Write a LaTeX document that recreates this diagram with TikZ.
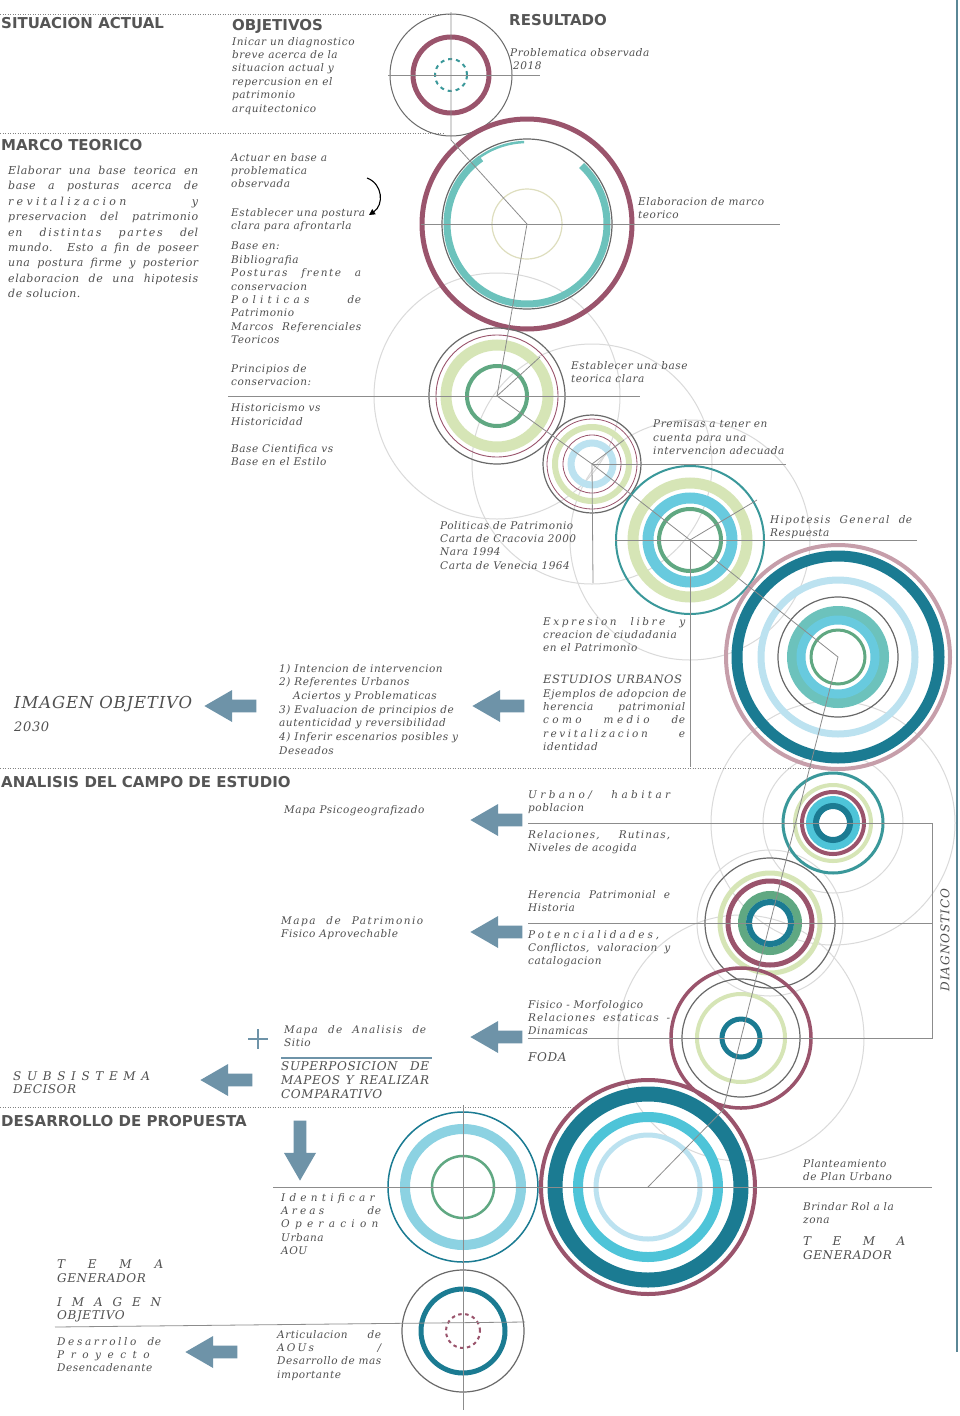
\documentclass[tikz,border=0pt]{standalone}
\usepackage{fontspec}
\setmainfont{DejaVu Serif}
\newfontfamily\handfont{DejaVu Serif}[LetterSpace=5]
\newfontfamily\headfont{DejaVu Sans}
\usetikzlibrary{shapes.arrows,arrows.meta}
\definecolor{maroonc}{RGB}{154,84,108}
\definecolor{pinkc}{RGB}{198,158,170}
\definecolor{dtealc}{RGB}{27,123,146}
\definecolor{tealc}{RGB}{108,194,188}
\definecolor{tealthin}{RGB}{58,152,154}
\definecolor{cyanc}{RGB}{104,202,222}
\definecolor{cyantwo}{RGB}{78,196,216}
\definecolor{lblue}{RGB}{188,226,240}
\definecolor{pgreen}{RGB}{214,229,182}
\definecolor{greenc}{RGB}{96,168,130}
\definecolor{dgray}{RGB}{105,105,105}
\definecolor{paleg}{RGB}{218,218,218}
\definecolor{linec}{RGB}{140,140,140}
\definecolor{dotc}{RGB}{130,130,130}
\definecolor{arrowc}{RGB}{110,147,168}
\definecolor{textc}{RGB}{80,80,80}
\definecolor{headc}{RGB}{85,85,85}
\definecolor{beigec}{RGB}{222,222,190}
\definecolor{edgec}{RGB}{90,135,150}
\definecolor{elevblue}{RGB}{140,210,226}
\newcommand\jl[2]{\hbox to #1{#2}}
\newcommand\lsp[2]{{\addfontfeature{LetterSpace=#1}#2}}
\begin{document}
\begin{tikzpicture}[x=1pt,y=-1pt,
 hand/.style={font={\handfont\itshape\fontsize{10.5}{13.4}\selectfont}, text=textc, inner sep=0pt, anchor=north west, align=left},
 head/.style={font={\headfont\bfseries\fontsize{15}{17}\selectfont}, text=headc, inner sep=0pt, anchor=west},
 guide/.style={draw=linec, line width=0.8pt},
 pale/.style={draw=paleg, line width=1pt},
 dotline/.style={draw=dotc, line width=1pt, dash pattern=on 1pt off 1.5pt},
 bigarrow/.style={single arrow, fill=arrowc, draw=none, minimum height=52pt, minimum width=32pt, single arrow tip angle=60, inner sep=4.5pt, anchor=tip}
]
\fill[white] (0,0) rectangle (960,1416);
\useasboundingbox (0,0) rectangle (960,1416);
% centres
\coordinate (C1) at (451,75);
\coordinate (C2) at (527,224);
\coordinate (C3) at (497,396);
\coordinate (C4) at (592,464);
\coordinate (C5) at (690,540);
\coordinate (C6) at (838,657);
\coordinate (C7) at (833,823);
\coordinate (C8) at (770,923);
\coordinate (C9) at (741,1038);
\coordinate (C10) at (648,1187);
\coordinate (C11) at (463,1187);
\coordinate (C12) at (463,1331);
\coordinate (k1) at (451,140);
\coordinate (k2) at (723,1110);
% pale circles
\draw[pale] (C3) circle (123pt);
\draw[pale] (C4) circle (120pt);
\draw[pale] (C5) circle (120pt);
\draw[pale] (C7) circle (122pt);
\draw[pale] (C7) circle (70pt);
\draw[pale] (C8) circle (73pt);
\draw[pale] (C9) circle (123pt);
% dotted separators
\draw[dotline] (0,14) -- (452,14);
\draw[dotline] (0,133) -- (445,133);
\draw[dotline] (0,768) -- (840,768);
\draw[dotline] (0,1107) -- (578,1107);
\draw[edgec, line width=1.2pt] (957,0) -- (957,1352);
% C1
\draw[dgray, line width=1pt] (C1) circle (61pt);
\draw[maroonc, line width=5pt] (C1) circle (38pt);
\draw[tealthin, line width=2pt, dash pattern=on 4pt off 4pt] (C1) circle (16pt);
% C2
\draw[maroonc, line width=5pt] (C2) circle (105pt);
\draw[dgray, line width=1.2pt] (C2) circle (85pt);
\draw[tealc, line width=7pt] ([shift={(47:80pt)}]C2) arc[start angle=47, end angle=-235, radius=80pt];
\draw[tealc, line width=2.5pt] ([shift={(126:82pt)}]C2) arc[start angle=126, end angle=92, radius=82pt];
\draw[beigec, line width=1.2pt] (C2) circle (35pt);
% C3
\draw[dgray, line width=1.2pt] (C3) circle (68pt);
\draw[maroonc, line width=0.9pt] (C3) circle (61pt);
\draw[pgreen, line width=11pt] (C3) circle (51pt);
\draw[greenc, line width=4pt] (C3) circle (30pt);
% C4
\draw[dgray, line width=1.2pt] (C4) circle (49pt);
\draw[maroonc, line width=0.8pt] (C4) circle (45pt);
\draw[pgreen, line width=6pt] (C4) circle (37pt);
\draw[maroonc, line width=0.8pt] (C4) circle (29pt);
\draw[lblue, line width=7pt] (C4) circle (21pt);
% C5
\draw[tealthin, line width=2pt] (C5) circle (74pt);
\draw[pgreen, line width=11pt] (C5) circle (57pt);
\draw[cyanc, line width=11pt] (C5) circle (42pt);
\draw[greenc, line width=4pt] (C5) circle (31pt);
% C6
\draw[pinkc, line width=4pt] (C6) circle (112pt);
\draw[dtealc, line width=11pt] (C6) circle (101pt);
\draw[lblue, line width=7pt] (C6) circle (77pt);
\draw[dgray, line width=1.2pt] (C6) circle (60pt);
\draw[tealc, line width=10pt] (C6) circle (46pt);
\draw[cyanc, line width=9pt] (C6) circle (37pt);
\draw[greenc, line width=3pt] (C6) circle (27pt);
% C7
\draw[tealthin, line width=3pt] (C7) circle (50pt);
\draw[pgreen, line width=4pt] (C7) circle (38pt);
\draw[maroonc, line width=4pt] (C7) circle (31pt);
\draw[cyantwo, line width=8pt] (C7) circle (23pt);
\draw[dtealc, line width=6pt] (C7) circle (17pt);
% C8
\draw[dgray, line width=1.2pt] (C8) circle (65pt);
\draw[pgreen, line width=5pt] (C8) circle (50pt);
\draw[maroonc, line width=5pt] (C8) circle (42pt);
\draw[greenc, line width=8pt] (C8) circle (28pt);
\draw[dtealc, line width=6pt] (C8) circle (21pt);
% C9
\draw[maroonc, line width=3.5pt] (C9) circle (70pt);
\draw[dgray, line width=1.2pt] (C9) circle (59pt);
\draw[pgreen, line width=4pt] (C9) circle (44pt);
\draw[dtealc, line width=5pt] (C9) circle (19pt);
% C10
\draw[maroonc, line width=4pt] (C10) circle (107pt);
\draw[dtealc, line width=15pt] (C10) circle (93pt);
\draw[cyantwo, line width=10pt] (C10) circle (70pt);
\draw[lblue, line width=5pt] (C10) circle (52pt);
% C11
\draw[dtealc, line width=1.5pt] (C11) circle (75pt);
\draw[elevblue, line width=10pt] (C11) circle (58pt);
\draw[greenc, line width=2.5pt] (C11) circle (31pt);
% C12
\draw[dgray, line width=1.2pt] (C12) circle (61pt);
\draw[dtealc, line width=5pt] (C12) circle (42pt);
\draw[maroonc, line width=2pt, dash pattern=on 3.5pt off 3.5pt] (C12) circle (17pt);
% guide lines
\draw[guide] (388,75) -- (540,75);
\draw[guide] (451,12) -- (k1) -- (C2);
\draw[guide] (421,224) -- (780,224);
\draw[guide] (C2) -- (C3) -- (C4) -- (C5) -- (C6) -- (C8) -- (C9) -- (k2) -- (C10);
\draw[guide] (228,396) -- (640,396);
\draw[guide] (C4) -- (786,464);
\draw[guide] (C4) -- (593,583);
\draw[guide] (615,540) -- (917,540);
\draw[guide] (C5) -- (690,767);
\draw[guide] (C3) -- (540,357);
\draw[guide] (C4) -- (624,440);
\draw[guide] (C5) -- (757,500);
\draw[guide] (528,823) -- (932,823) -- (932,1038) -- (528,1038);
\draw[guide] (528,923) -- (932,923);
\draw[guide] (273,1187) -- (932,1187);
\draw[guide] (463,1105) -- (463,1410);
\draw[guide] (55,1327) -- (525,1322);
\draw[arrowc, line width=2pt] (281,1058) -- (432,1058);
\draw[arrowc, line width=2pt] (248,1039) -- (268,1039) (258,1029) -- (258,1049);
% headings
\node[head] (hsit) at (1,23) {SITUACION ACTUAL};
\node[head] (hobj) at (232,26) {OBJETIVOS};
\node[head] (hres) at (509,20) {RESULTADO};
\node[head] (hmar) at (1,145) {MARCO TEORICO};
\node[head] (hana) at (1,782) {ANALISIS DEL CAMPO DE ESTUDIO};
\node[head] (hdes) at (1,1121) {DESARROLLO DE PROPUESTA};
% texts
\node[hand] (tobj) at (232,37) {Inicar un diagnostico\\breve acerca de la\\situacion actual y\\repercusion en el\\patrimonio\\arquitectonico};
\node[hand] (tprob) at (510,48) {Problematica observada\\\hspace*{3pt}2018};
\node[hand, font={\handfont\itshape\fontsize{11}{15.4}\selectfont}] (tmarco) at (8,166) {\jl{190pt}{Elaborar una base teorica en}\\\jl{190pt}{base a posturas acerca de}\\\jl{190pt}{\lsp{30}{revitalizacion} y}\\\jl{190pt}{preservacion del patrimonio}\\\jl{190pt}{en \lsp{16}{distintas} \lsp{16}{partes} del}\\\jl{190pt}{mundo. Esto a fin de poseer}\\\jl{190pt}{una postura firme y posterior}\\\jl{190pt}{elaboracion de una hipotesis}\\de solucion.};
\node[hand] (tactuar) at (231,153) {Actuar en base a\\problematica\\observada};
\node[hand] (testab) at (231,208) {Establecer una postura\\clara para afrontarla};
\node[hand] (tbase) at (231,242) {Base en:\\Bibliografia\\\jl{130pt}{\lsp{14}{Posturas} \lsp{14}{frente} a}\\conservacion\\\jl{130pt}{\lsp{40}{Politicas} de}\\Patrimonio\\\jl{130pt}{Marcos Referenciales}\\Teoricos};
\node[hand] (tprinc) at (231,364) {Principios de\\conservacion:};
\node[hand] (thist) at (231,404) {Historicismo vs\\Historicidad};
\node[hand] (tbcien) at (231,444) {Base Cientifica vs\\Base en el Estilo};
\coordinate (ca1) at (367,178);
\coordinate (ca2) at (369,215);
\draw[black, line width=1.1pt, -{Triangle[length=6pt,width=6pt]}] (ca1) .. controls (383,184) and (384,205) .. (ca2);
\node[hand] (telab) at (638,197) {Elaboracion de marco\\teorico};
\node[hand] (testb2) at (571,361) {Establecer una base\\teorica clara};
\node[hand] (tprem) at (653,420) {Premisas a tener en\\cuenta para una\\intervencion adecuada};
\node[hand] (tpol) at (440,521) {Politicas de Patrimonio\\Carta de Cracovia 2000\\Nara 1994\\Carta de Venecia 1964};
\node[hand] (thip) at (770,515) {\jl{142pt}{\lsp{12}{Hipotesis} \lsp{12}{General} de}\\Respuesta};
\node[hand] (texpr) at (543,617) {\jl{142pt}{\lsp{24}{Expresion} \lsp{24}{libre} y}\\creacion de ciudadania\\en el Patrimonio};
\node[hand] (test) at (543,675) {{\fontsize{11.5}{13}\selectfont ESTUDIOS URBANOS}\\Ejemplos de adopcion de\\\jl{142pt}{herencia patrimonial}\\\jl{142pt}{\lsp{32}{como} \lsp{32}{medio} de}\\\jl{142pt}{\lsp{24}{revitalizacion} e}\\identidad};
\node[hand, font={\handfont\itshape\fontsize{10.5}{13.7}\selectfont}] (tlist) at (279,664) {1) Intencion de intervencion\\2) Referentes Urbanos\\\hspace*{14pt}Aciertos y Problematicas\\3) Evaluacion de principios de\\autenticidad y reversibilidad\\4) Inferir escenarios posibles y\\Deseados};
\node[hand, font={\handfont\itshape\fontsize{16.5}{23}\selectfont}] (timg) at (14,696) {IMAGEN OBJETIVO\\{\fontsize{13}{15}\selectfont 2030}};
\node[hand] (tmapa1) at (284,805) {Mapa Psicogeografizado};
\node[hand] (turb) at (528,790) {\jl{142pt}{\lsp{32}{Urbano/} \lsp{32}{habitar}}\\poblacion};
\node[hand] (trel) at (528,830) {\jl{142pt}{\lsp{10}{Relaciones,} \lsp{10}{Rutinas,}}\\Niveles de acogida};
\node[hand] (ther) at (528,890) {\jl{142pt}{Herencia Patrimonial e}\\Historia};
\node[hand] (tpot) at (528,930) {\jl{142pt}{\lsp{28}{Potencialidades,}}\\\jl{142pt}{Conflictos, valoracion y}\\catalogacion};
\node[hand] (tmapa2) at (281,916) {\jl{142pt}{\lsp{14}{Mapa} \lsp{14}{de} \lsp{14}{Patrimonio}}\\Fisico Aprovechable};
\node[hand] (tfis) at (528,1000) {Fisico - Morfologico\\\jl{142pt}{\lsp{10}{Relaciones} \lsp{10}{estaticas} -}\\Dinamicas};
\node[hand, font={\handfont\itshape\fontsize{12}{14}\selectfont}] (tfoda) at (528,1052) {FODA};
\node[hand] (tmapa3) at (284,1025) {\jl{142pt}{\lsp{12}{Mapa} \lsp{12}{de} \lsp{12}{Analisis} de}\\Sitio};
\node[hand, font={\handfont\itshape\fontsize{12}{14}\selectfont}] (tsup) at (281,1061) {\jl{148pt}{SUPERPOSICION DE}\\\jl{148pt}{MAPEOS Y REALIZAR}\\COMPARATIVO};
\node[hand, font={\handfont\itshape\fontsize{12}{13.5}\selectfont}] (tsub) at (13,1071) {\lsp{47}{SUBSISTEMA}\\DECISOR};
\node[hand] (tident) at (281,1193) {\lsp{40}{Identificar}\\\jl{100pt}{\lsp{30}{Areas} de}\\\lsp{50}{Operacion}\\Urbana\\AOU};
\node[hand] (tplant) at (803,1159) {Planteamiento\\de Plan Urbano};
\node[hand] (tbrind) at (803,1202) {Brindar Rol a la\\zona};
\node[hand, font={\handfont\itshape\fontsize{12}{13.5}\selectfont}] (ttema1) at (803,1237) {\hbox to 102pt{T\hfill E\hfill M\hfill A}\\GENERADOR};
\node[hand, font={\handfont\itshape\fontsize{12}{13.5}\selectfont}] (ttema2) at (57,1260) {\hbox to 106pt{T\hfill E\hfill M\hfill A}\\GENERADOR};
\node[hand, font={\handfont\itshape\fontsize{12}{13.5}\selectfont}] (timag2) at (57,1297) {\hbox to 104pt{I\hfill M\hfill A\hfill G\hfill E\hfill N}\\OBJETIVO};
\node[hand] (tdesa) at (57,1337) {\jl{104pt}{\lsp{25}{Desarrollo} de}\\\lsp{62}{Proyecto}\\Desencadenante};
\node[hand] (tart) at (277,1330) {\jl{104pt}{Articulacion de}\\\jl{104pt}{\lsp{20}{AOUs} /}\\\jl{104pt}{Desarrollo de mas}\\importante};
\node[hand, anchor=center, rotate=90, font={\handfont\itshape\fontsize{12}{14}\selectfont}] (tdiag) at (945,940) {\lsp{8}{DIAGNOSTICO}};
% big arrows
\node[bigarrow, shape border rotate=180] (ar1) at (204,706) {};
\node[bigarrow, shape border rotate=180] (ar2) at (472,706) {};
\node[bigarrow, shape border rotate=180] (ar3) at (470,820) {};
\node[bigarrow, shape border rotate=180] (ar4) at (470,932) {};
\node[bigarrow, shape border rotate=180] (ar5) at (470,1037) {};
\node[bigarrow, shape border rotate=180] (ar6) at (200,1080) {};
\node[bigarrow, shape border rotate=180] (ar8) at (185,1352) {};
\node[bigarrow, shape border rotate=270, minimum height=60pt] (ar7) at (300,1181) {};
\end{tikzpicture}
\end{document}
